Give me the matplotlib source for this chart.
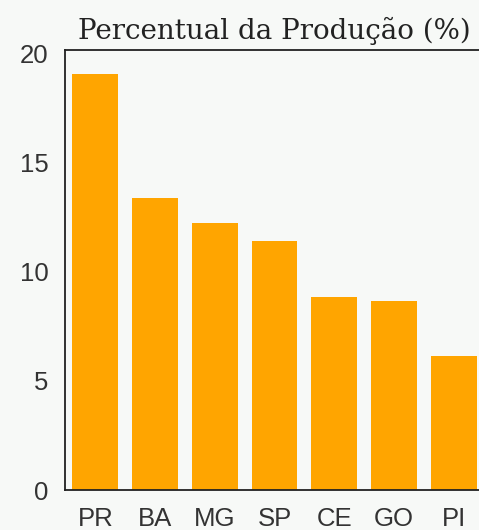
import matplotlib
matplotlib.use("Agg")
import matplotlib.pyplot as plt

estados = ["PR", "BA", "MG", "SP", "CE", "GO", "PI"]
percentual = [19.1, 13.4, 12.25, 11.4, 8.85, 8.67, 6.16]
yticks = [0, 5, 10, 15, 20]

fundo = "#f7f9f7"
figure = plt.figure(figsize=(4.79, 5.30), dpi=100, facecolor=fundo)
axes = figure.add_axes([65 / 479, 40 / 530, 419 / 479, 440 / 530])
axes.set_facecolor(fundo)

axes.bar(range(len(estados)), percentual, width=0.77, color="#ffa500")

axes.set_xlim(-0.51, len(estados) - 0.49)
axes.set_ylim(0, 20.18)
axes.set_yticks(yticks)
axes.set_xticks(range(len(estados)))
axes.set_xticklabels(estados)
axes.tick_params(length=0, labelsize=18.5, colors="#333333", pad=12)
for lab in axes.get_xticklabels() + axes.get_yticklabels():
    lab.set_family("Liberation Sans")

for side in ["left", "bottom", "top"]:
    axes.spines[side].set_color("#222222")
    axes.spines[side].set_linewidth(1.3)
axes.spines["right"].set_visible(False)

axes.set_title("Percentual da Produção (%)", fontsize=20, family="DejaVu Serif",
               color="#222222", pad=8)

figure.savefig("out.png", dpi=100, facecolor=fundo)
